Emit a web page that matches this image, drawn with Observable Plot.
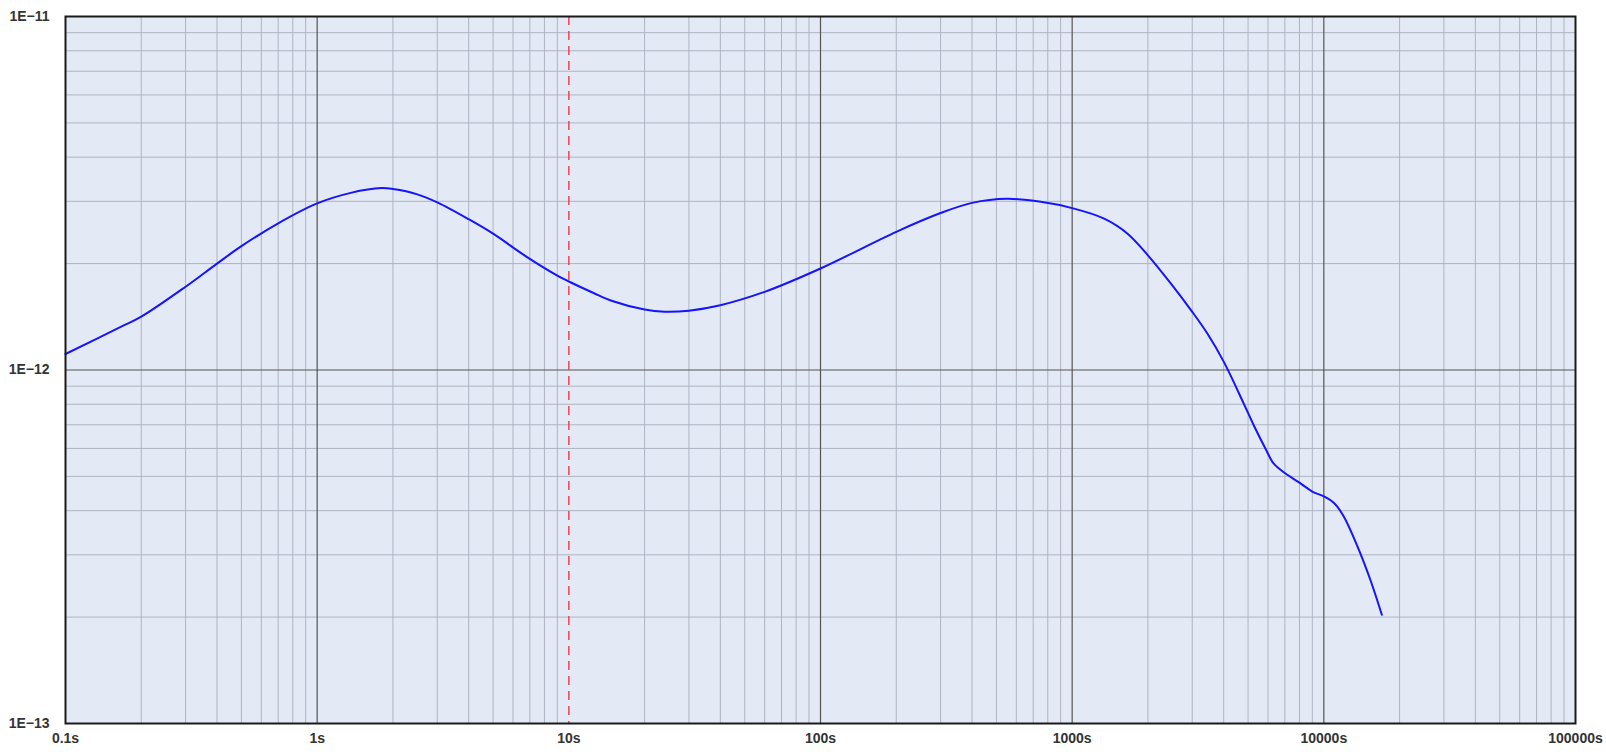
<!DOCTYPE html>
<html>
<head>
<meta charset="utf-8">
<script src="https://cdn.jsdelivr.net/npm/d3@7"></script>
<script src="https://cdn.jsdelivr.net/npm/@observablehq/plot@0.6"></script>
<style>
  html, body { margin: 0; padding: 0; background: #ffffff; }
  #chart { width: 1606px; height: 755px; }
</style>
</head>
<body>
<div id="chart"></div>
<script>
// Curve samples (time in seconds, value)
const times = [0.1, 0.168, 0.2, 0.3, 0.4, 0.5, 0.7, 1, 1.36, 1.8, 2.0, 2.5, 3, 4, 5, 6.8, 9, 10, 12.6, 15, 20, 24, 30, 40, 60, 100, 200, 300, 400, 550, 750, 1000, 1340, 1660, 2000, 2460, 3000, 3440, 4000, 4800, 5300, 5900, 6300, 7000, 8000, 9000, 10000, 11000, 12000, 13600, 15300, 17000];
const values = [1.11e-12, 1.33e-12, 1.415e-12, 1.72e-12, 2.0e-12, 2.24e-12, 2.6e-12, 2.96e-12, 3.17e-12, 3.27e-12, 3.25e-12, 3.14e-12, 2.98e-12, 2.67e-12, 2.43e-12, 2.09e-12, 1.85e-12, 1.78e-12, 1.649e-12, 1.565e-12, 1.482e-12, 1.462e-12, 1.472e-12, 1.525e-12, 1.664e-12, 1.937e-12, 2.46e-12, 2.78e-12, 2.97e-12, 3.05e-12, 2.99e-12, 2.87e-12, 2.68e-12, 2.43e-12, 2.11e-12, 1.76e-12, 1.46e-12, 1.27e-12, 1.056e-12, 8.05e-13, 6.91e-13, 5.94e-13, 5.45e-13, 5.11e-13, 4.8e-13, 4.53e-13, 4.39e-13, 4.2e-13, 3.85e-13, 3.17e-13, 2.55e-13, 2.03e-13];

// Axis ticks and labels
const xTicks = [0.1, 1, 10, 100, 1000, 10000, 100000];
const xLabels = ["0.1s", "1s", "10s", "100s", "1000s", "10000s", "100000s"];
const yTicks = [1e-13, 1e-12, 1e-11];
const yLabels = ["1E\u221213", "1E\u221212", "1E\u221211"];
const minorMultipliers = [2, 3, 4, 5, 6, 7, 8, 9];
const xDecades = [0.1, 1, 10, 100, 1000, 10000];
const yDecades = [1e-13, 1e-12];
const markerTime = 10;

const data = times.map((t, i) => ({t, v: values[i]}));
const xMinor = xDecades.flatMap(d => minorMultipliers.map(m => d * m));
const yMinor = yDecades.flatMap(d => minorMultipliers.map(m => d * m));
const xMajor = xTicks.slice(1, -1).filter(d => d !== markerTime);
const yMajor = yTicks.slice(1, -1);

const font = "'Liberation Sans', Arial, sans-serif";

const chart = Plot.plot({
  width: 1606,
  height: 755,
  marginLeft: 65,
  marginRight: 31,
  marginTop: 16,
  marginBottom: 32,
  style: {fontFamily: font, fontSize: "14px", fontWeight: "bold", color: "#333", background: "#ffffff"},
  x: {type: "log", domain: [0.1, 100000], label: null},
  y: {type: "log", domain: [1e-13, 1e-11], label: null},
  marks: [
    Plot.frame({fill: "#e3e9f5", stroke: null}),
    Plot.ruleX(xMinor, {stroke: "#aeb5c2", strokeWidth: 1}),
    Plot.ruleY(yMinor, {stroke: "#aeb5c2", strokeWidth: 1}),
    Plot.ruleX(xMajor, {stroke: "#555555", strokeWidth: 1.2}),
    Plot.ruleY(yMajor, {stroke: "#555555", strokeWidth: 1.2}),
    Plot.ruleX([markerTime], {stroke: "#ee4455", strokeWidth: 1.5, strokeDasharray: "9,6"}),
    Plot.line(data, {x: "t", y: "v", stroke: "#1414ff", strokeWidth: 2, curve: "catmull-rom"}),
    Plot.frame({stroke: "#1a1a1a", strokeWidth: 2}),
    Plot.axisX({ticks: xTicks, tickFormat: d => xLabels[xTicks.indexOf(d)], tickSize: 0, tickPadding: 10, label: null, fontSize: 14, fontWeight: "bold", fontFamily: font}),
    Plot.axisY({ticks: yTicks, tickFormat: d => yLabels[yTicks.indexOf(d)], tickSize: 0, tickPadding: 16, label: null, fontSize: 14, fontWeight: "bold", fontFamily: font})
  ]
});
document.getElementById("chart").appendChild(chart);
</script>
</body>
</html>
